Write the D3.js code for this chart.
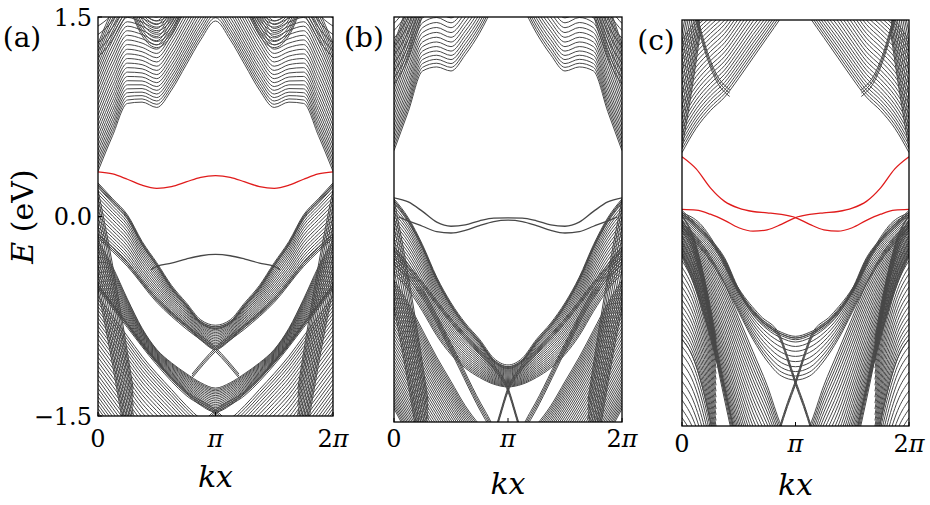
<!DOCTYPE html>
<html>
<head>
<meta charset="utf-8">
<script src="https://cdn.jsdelivr.net/npm/d3@7"></script>
<style>
  body { margin: 0; background: #fff; }
  text { font-family: "DejaVu Serif", "Liberation Serif", serif; fill: #000; }
</style>
</head>
<body>
<svg id="chart" width="930" height="505"></svg>
<script>
// k values are in units of pi; every band is mirrored about k = pi
const kHalf = [0, 0.125, 0.25, 0.375, 0.5, 0.625, 0.75, 0.875, 1];
const kFull = [0, 0.125, 0.25, 0.375, 0.5, 0.625, 0.75, 0.875, 1,
               1.125, 1.25, 1.375, 1.5, 1.625, 1.75, 1.875, 2];
const kSteep = [0, 0.1, 0.2, 0.3];

// ---- panel (a) : energies in eV ----
const aRed = [0.335, 0.32, 0.28, 0.235, 0.212, 0.225, 0.26, 0.295, 0.307];
const aEdgeK = [0.45, 0.5, 0.625, 0.75, 0.875, 1];
const aEdge = [-0.40, -0.375, -0.35, -0.32, -0.295, -0.285];
const aUp1Lo = [0.34, 0.61, 0.85, 0.86, 0.82, 0.95, 1.14, 1.33, 1.47];
const aUp1Hi = [1.3, 1.55, 1.7, 1.65, 1.6, 1.75, 1.95, 2.15, 2.3];
const aUp2K = [0.25, 0.375, 0.5, 0.625, 0.75];
const aUp2Lo = [1.62, 1.36, 1.27, 1.36, 1.6];
const aUp2Hi = [1.8, 1.55, 1.47, 1.55, 1.8];
const aUp3Lo = [1.2, 1.3, 1.45, 1.62];
const aUp3Hi = [1.6, 1.65, 1.75, 1.85];
const aLo1Hi = [0.24, 0.12, 0.0, -0.2, -0.36, -0.53, -0.66, -0.79, -0.83];
const aLo1Lo = [-0.15, -0.25, -0.36, -0.5, -0.63, -0.74, -0.83, -0.93, -1.0];
const aArm1K = [0, 0.25, 0.5, 0.75, 1.0, 1.2];
const aArm1 = [-0.15, -0.36, -0.63, -0.83, -1.0, -1.2];
const aLo2Hi = [-0.18, -0.38, -0.62, -0.84, -1.0, -1.1, -1.18, -1.25, -1.29];
const aLo2Lo = [-0.53, -0.67, -0.82, -0.97, -1.1, -1.22, -1.33, -1.42, -1.47];
const aArm2K = [0, 0.25, 0.5, 0.75, 1.0, 1.15];
const aArm2 = [-0.53, -0.82, -1.1, -1.33, -1.47, -1.6];
const aLo3Hi = [-0.6, -0.75, -0.9, -1.05, -1.18, -1.3, -1.42, -1.52, -1.56];
const aLo3Lo = [-1.55, -1.7, -1.85, -2.0, -2.1, -2.2, -2.3, -2.35, -2.4];
const aSteepHi = [0.2, -0.25, -0.75, -1.3];
const aSteepLo = [-0.55, -1.0, -1.5, -2.05];

// ---- panel (b) ----
const bUp1Lo = [0.51, 0.8, 1.1, 1.13, 1.1, 1.22, 1.38, 1.58, 1.75];
const bUp1Hi = [1.3, 1.6, 1.85, 1.9, 1.85, 1.95, 2.1, 2.3, 2.5];
const bUp2Lo = [1.0, 1.15, 1.38, 1.65];
const bUp2Hi = [1.5, 1.6, 1.75, 1.95];
const bEdgeA = [0.16, 0.13, 0.06, -0.02, -0.05, -0.04, -0.01, 0.01, 0.012];
const bEdgeBK = [0.04, 0.125, 0.25, 0.375, 0.5, 0.625, 0.75, 0.875, 1];
const bEdgeB = [0.02, -0.01, -0.05, -0.09, -0.1, -0.08, -0.045, -0.015, -0.005];
const bLo1Hi = [0.14, 0.0, -0.2, -0.44, -0.63, -0.78, -0.9, -1.04, -1.09];
const bLo1Lo = [-0.4, -0.52, -0.68, -0.86, -1.0, -1.1, -1.17, -1.22, -1.24];
const bArm1K = [0, 0.25, 0.5, 0.75, 0.9, 1.0, 1.07, 1.14];
const bArm1 = [-0.22, -0.48, -0.75, -0.98, -1.12, -1.26, -1.45, -1.65];
const bArm2K = [0, 0.25, 0.5, 0.8, 1.0];
const bArm2 = [-0.3, -0.55, -0.95, -1.45, -1.7];
const bLo2Hi = [-0.45, -0.62, -0.82, -1.02, -1.2, -1.38, -1.52, -1.62, -1.66];
const bLo2Lo = [-1.4, -1.6, -1.8, -1.95, -2.1, -2.2, -2.25, -2.3, -2.3];
const bSteepHi = [0.15, -0.3, -0.8, -1.35];
const bSteepLo = [-0.65, -1.1, -1.6, -2.15];

// ---- panel (c) ----
const cUp1Lo = [0.52, 0.70, 0.83, 0.93, 1.07, 1.22, 1.37, 1.52, 1.68];
const cUp1Hi = [1.35, 1.5, 1.6, 1.7, 1.85, 2.0, 2.1, 2.25, 2.4];
const cUp2K = [0.12, 0.2, 0.3, 0.42];
const cUp2 = [1.55, 1.3, 1.08, 0.96];
const cUp3K = [0, 0.08, 0.16];
const cUp3Lo = [0.55, 0.95, 1.4];
const cUp3Hi = [1.4, 1.75, 2.1];
const cRed = [0.49, 0.40, 0.26, 0.16, 0.11, 0.085, 0.075, 0.063, 0.04,
              -0.01, -0.05, -0.06, -0.035, 0.02, 0.065, 0.095, 0.10];
const cLo1Hi = [0.08, -0.02, -0.13, -0.27, -0.5, -0.66, -0.76, -0.82, -0.85];
const cLo1Lo = [-0.05, -0.15, -0.28, -0.45, -0.66, -0.86, -1.02, -1.13, -1.16];
const cXK = [0, 0.16, 0.31, 0.5, 0.69, 0.86, 0.93, 1.0, 1.07, 1.14];
const cX = [0.06, -0.02, -0.2, -0.5, -0.7, -0.84, -1.0, -1.18, -1.34, -1.52];
const cLo2Hi = [0.0, -0.1, -0.25, -0.45, -0.7, -0.95, -1.2, -1.5, -1.68];
const cLo2Lo = [-0.25, -0.5, -0.85, -1.25, -1.65, -2.0, -2.2, -2.3, -2.35];
const cBandK = [0, 0.1, 0.185, 0.3, 0.44, 0.5];
const cBand = [0.0, -0.15, -0.42, -0.95, -1.51, -1.75];
const cLeftHi = [0.06, -0.12, -0.42, -0.85];
const cLeftMid = [-0.86, -1.0, -1.28, -1.68];
const cLeftLo = [-1.55, -1.7, -1.95, -2.3];

const xTickLabels = [["0", ""], ["", "\u03c0"], ["2", "\u03c0"]];
const yTicks = [-1.5, 0, 1.5];

const grey = "#474747";
const red = "#e01b1b";

// family: n bands spread between hi and lo; thick: n bands around one curve
const fam = (k, hi, lo, n) => ({ k, hi, lo, n });
const thick = (k, c, n, s) => ({ k, hi: c.map(v => v + s / 2), lo: c.map(v => v - s / 2), n, even: true });
const single = (k, c, color) => ({ k, hi: c, lo: c, n: 1, color, w: 1.3 });

const panels = [
  {
    x0: 98, x1: 333, y0: 17, y1: 416, label: "(a)", lx: 22, ly: 47,
    yAxis: true, tickBase: 447, kxBase: 487,
    bands: [
      fam(kHalf, aUp1Hi, aUp1Lo, 28),
      fam(aUp2K, aUp2Hi, aUp2Lo, 9),
      fam(kSteep, aUp3Hi, aUp3Lo, 8),
      fam(kSteep, aSteepHi, aSteepLo, 12),
      fam(kHalf, aLo3Hi, aLo3Lo, 32),
      fam(kHalf, aLo2Hi, aLo2Lo, 16),
      fam(kHalf, aLo1Hi, aLo1Lo, 16),
      thick(kHalf, aLo1Hi, 3, 0.025),
      thick(aArm1K, aArm1, 3, 0.03),
      thick(aArm2K, aArm2, 3, 0.03),
      single(aEdgeK, aEdge, grey),
      single(kHalf, aRed, red)
    ]
  },
  {
    x0: 394, x1: 622, y0: 17, y1: 422, label: "(b)", lx: 364, ly: 47,
    yAxis: false, tickBase: 447, kxBase: 494,
    bands: [
      fam(kHalf, bUp1Hi, bUp1Lo, 24),
      fam(kSteep, bUp2Hi, bUp2Lo, 10),
      fam(kSteep, bSteepHi, bSteepLo, 12),
      fam(kHalf, bLo2Hi, bLo2Lo, 40),
      fam(kHalf, bLo1Hi, bLo1Lo, 22),
      thick(kHalf, bLo1Hi, 3, 0.025),
      thick(bArm2K, bArm2, 4, 0.06),
      thick(bArm1K, bArm1, 3, 0.03),
      single(kHalf, bEdgeA, grey),
      single(bEdgeBK, bEdgeB, grey)
    ]
  },
  {
    x0: 682, x1: 909, y0: 20, y1: 426, label: "(c)", lx: 656, ly: 50,
    yAxis: false, tickBase: 452, kxBase: 495,
    bands: [
      fam(kHalf, cUp1Hi, cUp1Lo, 26),
      fam(cUp3K, cUp3Hi, cUp3Lo, 12),
      thick(cUp2K, cUp2, 3, 0.05),
      fam(kSteep, cLeftHi, cLeftMid, 22),
      fam(kSteep, cLeftMid, cLeftLo, 12),
      fam(kHalf, cLo2Hi, cLo2Lo, 24),
      fam(kHalf, cLo1Hi, cLo1Lo, 10),
      thick(kHalf, cLo1Hi, 3, 0.025),
      thick(cBandK, cBand, 4, 0.1),
      thick(cXK, cX, 3, 0.03),
      single(kFull, cRed, red)
    ]
  }
];

const svg = d3.select("#chart");

// spacing of bands inside a family: slightly denser toward both edges
function fractions(n, even) {
  if (n === 1) return [0.5];
  return d3.range(n).map(i => {
    const u = i / (n - 1);
    return even ? u : 0.8 * u + 0.1 * (1 - Math.cos(Math.PI * u));
  });
}

// one band -> list of polylines (itself plus its mirror about pi)
function bandLines(k, vals) {
  const pts = k.map((kk, i) => [kk, vals[i]]);
  if (k[k.length - 1] === 1) {
    const mirror = pts.slice(0, -1).reverse().map(([kk, v]) => [2 - kk, v]);
    return [pts.concat(mirror)];
  }
  return [pts, pts.map(([kk, v]) => [2 - kk, v]).reverse()];
}

panels.forEach((p, pi) => {
  const xScale = d3.scaleLinear().domain([0, 2 * Math.PI]).range([p.x0, p.x1]);
  const yScale = d3.scaleLinear().domain([-1.5, 1.5]).range([p.y1, p.y0]);

  const line = d3.line()
    .x(d => xScale(d[0] * Math.PI))
    .y(d => yScale(d[1]))
    .curve(d3.curveMonotoneX);

  svg.append("clipPath").attr("id", "clip" + pi)
    .append("rect")
    .attr("x", p.x0).attr("y", p.y0)
    .attr("width", p.x1 - p.x0).attr("height", p.y1 - p.y0);

  const g = svg.append("g").attr("clip-path", `url(#clip${pi})`);

  p.bands.forEach(b => {
    fractions(b.n, b.even).forEach(t => {
      const vals = b.hi.map((h, i) => h + (b.lo[i] - h) * t);
      bandLines(b.k, vals).forEach(pts => {
        g.append("path")
          .attr("d", line(pts))
          .attr("fill", "none")
          .attr("stroke", b.color || grey)
          .attr("stroke-width", b.w || 1.0);
      });
    });
  });

  // frame
  svg.append("rect")
    .attr("x", p.x0).attr("y", p.y0)
    .attr("width", p.x1 - p.x0).attr("height", p.y1 - p.y0)
    .attr("fill", "none").attr("stroke", "#000").attr("stroke-width", 1.3);

  // x ticks and labels
  [0, Math.PI, 2 * Math.PI].forEach((v, i) => {
    svg.append("line")
      .attr("x1", xScale(v)).attr("x2", xScale(v))
      .attr("y1", p.y1).attr("y2", p.y1 - 4)
      .attr("stroke", "#000").attr("stroke-width", 1);
    const t = svg.append("text")
      .attr("x", xScale(v)).attr("y", p.tickBase)
      .attr("text-anchor", "middle").attr("font-size", 24);
    t.append("tspan").text(xTickLabels[i][0]);
    t.append("tspan").attr("font-style", "italic").text(xTickLabels[i][1]);
  });

  svg.append("text")
    .attr("x", (p.x0 + p.x1) / 2).attr("y", p.kxBase)
    .attr("text-anchor", "middle").attr("font-size", 30)
    .attr("font-style", "italic")
    .text("kx");

  if (p.yAxis) {
    const fmt = d3.format(".1f");
    yTicks.forEach(v => {
      svg.append("line")
        .attr("x1", p.x0).attr("x2", p.x0 + 4)
        .attr("y1", yScale(v)).attr("y2", yScale(v))
        .attr("stroke", "#000").attr("stroke-width", 1);
      svg.append("text")
        .attr("x", p.x0 - 6).attr("y", yScale(v) + 8.5)
        .attr("text-anchor", "end").attr("font-size", 24)
        .text(fmt(v));
    });
    const yl = svg.append("text")
      .attr("transform", `translate(33,${(p.y0 + p.y1) / 2}) rotate(-90)`)
      .attr("text-anchor", "middle").attr("font-size", 30);
    yl.append("tspan").attr("font-style", "italic").text("E");
    yl.append("tspan").text(" (eV)");
  }

  svg.append("text")
    .attr("x", p.lx).attr("y", p.ly)
    .attr("text-anchor", "middle").attr("font-size", 28)
    .text(p.label);
});
</script>
</body>
</html>
